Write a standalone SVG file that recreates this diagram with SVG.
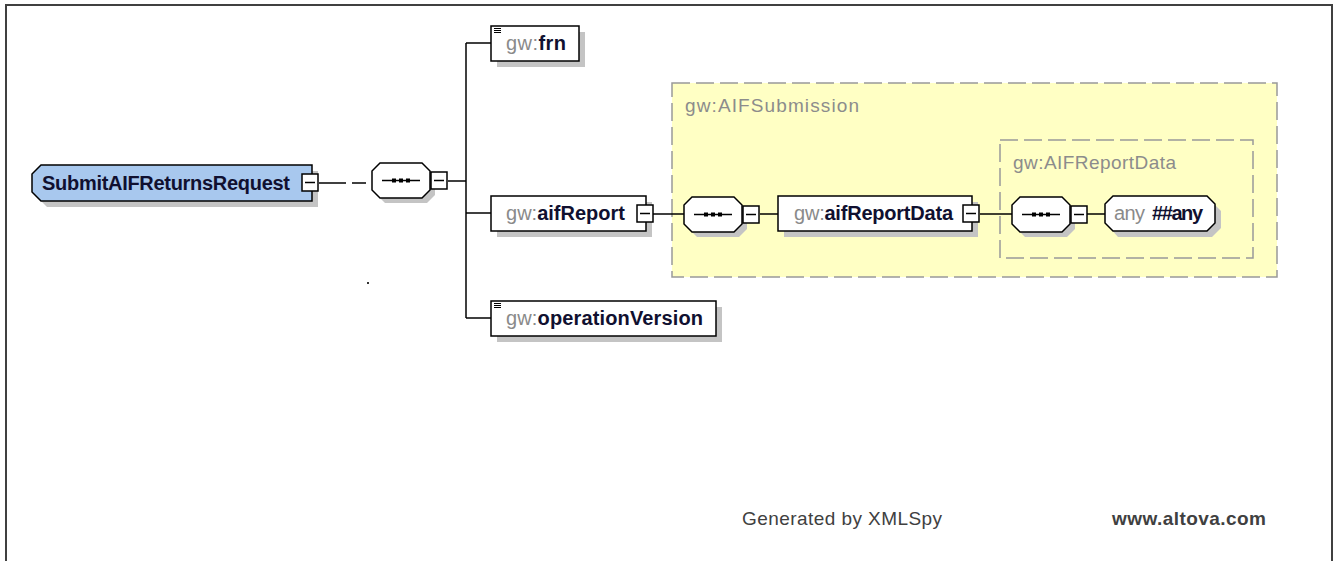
<svg xmlns="http://www.w3.org/2000/svg" width="1338" height="561" viewBox="0 0 1338 561">
<defs>
<style>
.frame{fill:none;stroke:#404040;stroke-width:2}
.box{fill:#fff;stroke:#000;stroke-width:1.5}
.root{fill:#a8c8ee;stroke:#000;stroke-width:1.5}
.shadow{fill:#c4c4c4;stroke:none}
.ln{stroke:#000;stroke-width:1.5;fill:none}
.grp{fill:#ffffc4;stroke:#999;stroke-width:1.5;stroke-dasharray:18 6}
.grp2{fill:none;stroke:#999;stroke-width:1.5;stroke-dasharray:18 6}
.t{font-family:"Liberation Sans",Arial,sans-serif;font-size:20px}
.pre{fill:#8a8a8a;font-weight:normal}
.nm{fill:#101030;font-weight:bold}
.glbl{font-family:"Liberation Sans",Arial,sans-serif;font-size:19px;fill:#8c8c8c}
.foot{font-family:"Liberation Sans",Arial,sans-serif;font-size:19px;fill:#404040}
</style>
<g id="minus">
<rect x="0" y="0" width="16" height="17" fill="#fff" stroke="#000" stroke-width="1.5"/>
<line x1="3" y1="8.5" x2="13" y2="8.5" stroke="#000" stroke-width="1.5"/>
</g>
<g id="seq">
<path d="M8,0 H50 L58,8 V27 L50,35 H8 L0,27 V8 Z" fill="#c4c4c4" transform="translate(5,5)"/>
<path d="M8,0 H50 L58,8 V27 L50,35 H8 L0,27 V8 Z" fill="#fff" stroke="#000" stroke-width="1.5"/>
<line x1="10" y1="17.5" x2="48" y2="17.5" stroke="#000" stroke-width="1.5"/>
<rect x="20" y="15.5" width="4" height="4" fill="#000"/>
<rect x="27" y="15.5" width="4" height="4" fill="#000"/>
<rect x="34" y="15.5" width="4" height="4" fill="#000"/>
</g>
<g id="doc">
<line x1="0" y1="0.5" x2="7" y2="0.5" stroke="#000" stroke-width="1"/>
<line x1="0" y1="2.5" x2="7" y2="2.5" stroke="#000" stroke-width="1"/>
<line x1="0" y1="4.5" x2="7" y2="4.5" stroke="#000" stroke-width="1"/>
</g>
</defs>
<rect x="0" y="0" width="1338" height="561" fill="#fff"/>
<path class="frame" d="M6,570 V5 H1332 V570"/>

<g id="group-AIFSubmission">
<rect class="grp" x="672" y="83" width="605" height="194"/>
<text class="glbl" x="685" y="112" textLength="174">gw:AIFSubmission</text>
</g>
<g id="group-AIFReportData">
<rect class="grp2" x="1000" y="140" width="253" height="118"/>
<text class="glbl" x="1013" y="169" textLength="163">gw:AIFReportData</text>
</g>

<g id="connectors">
<line class="ln" x1="319" y1="183" x2="346" y2="183"/>
<line class="ln" x1="352" y1="183" x2="366" y2="183"/>
<line class="ln" x1="448" y1="181" x2="466" y2="181"/>
<line class="ln" x1="466" y1="43" x2="466" y2="318"/>
<line class="ln" x1="466" y1="43" x2="491" y2="43"/>
<line class="ln" x1="466" y1="213" x2="491" y2="213"/>
<line class="ln" x1="466" y1="318" x2="491" y2="318"/>
<line class="ln" x1="653" y1="214" x2="684" y2="214"/>
<line class="ln" x1="760" y1="214" x2="778" y2="214"/>
<line class="ln" x1="980" y1="214" x2="1012" y2="214"/>
<line class="ln" x1="1087" y1="214" x2="1105" y2="214"/>
</g>

<g id="node-SubmitAIFReturnsRequest">
<path class="shadow" d="M47,171 H318 V207 H47 L38,198 V180 Z"/>
<path class="root" d="M41,165 H312 V201 H41 L32,192 V174 Z"/>
<text class="t nm" x="42" y="190" textLength="248" style="fill:#101030">SubmitAIFReturnsRequest</text>
<use href="#minus" x="302" y="174"/>
</g>

<g id="node-seq1">
<use href="#seq" x="372" y="163"/>
<use href="#minus" x="431" y="172"/>
</g>

<g id="node-frn">
<rect class="shadow" x="497" y="32" width="88" height="35"/>
<rect class="box" x="491" y="26" width="88" height="35"/>
<use href="#doc" x="494" y="28"/>
<text class="t" x="506" y="50" textLength="60"><tspan class="pre">gw:</tspan><tspan class="nm">frn</tspan></text>
</g>

<g id="node-aifReport">
<rect class="shadow" x="497" y="202" width="155" height="35"/>
<rect class="box" x="491" y="196" width="155" height="35"/>
<text class="t" x="506" y="220" textLength="119"><tspan class="pre">gw:</tspan><tspan class="nm">aifReport</tspan></text>
<use href="#minus" x="637" y="205"/>
</g>

<g id="node-operationVersion">
<rect class="shadow" x="497" y="307" width="225" height="35"/>
<rect class="box" x="491" y="301" width="225" height="35"/>
<use href="#doc" x="494" y="303"/>
<text class="t" x="506" y="325" textLength="197"><tspan class="pre">gw:</tspan><tspan class="nm">operationVersion</tspan></text>
</g>

<g id="node-seq2">
<use href="#seq" x="684" y="197"/>
<use href="#minus" x="743" y="206"/>
</g>

<g id="node-aifReportData">
<rect class="shadow" x="784" y="202" width="194" height="35"/>
<rect class="box" x="778" y="196" width="194" height="35"/>
<text class="t" x="794" y="220" textLength="159"><tspan class="pre">gw:</tspan><tspan class="nm">aifReportData</tspan></text>
<use href="#minus" x="963" y="205"/>
</g>

<g id="node-seq3">
<use href="#seq" x="1012" y="197"/>
<use href="#minus" x="1071" y="206"/>
</g>

<g id="node-any">
<path class="shadow" d="M1118,202 H1212 L1221,211 V228 L1212,237 H1118 L1110,228 V211 Z"/>
<path class="box" d="M1113,196 H1207 L1215,204 V223 L1207,231 H1113 L1105,223 V204 Z"/>
<text class="t" x="1114" y="220"><tspan class="pre" textLength="31">any</tspan><tspan class="nm" x="1152" textLength="51">##any</tspan></text>
</g>

<rect x="367" y="282" width="2" height="2" fill="#333"/>

<g id="footer">
<text class="foot" x="742" y="525" textLength="200">Generated by XMLSpy</text>
<text class="foot" x="1112" y="525" textLength="154" font-weight="bold">www.altova.com</text>
</g>
</svg>
